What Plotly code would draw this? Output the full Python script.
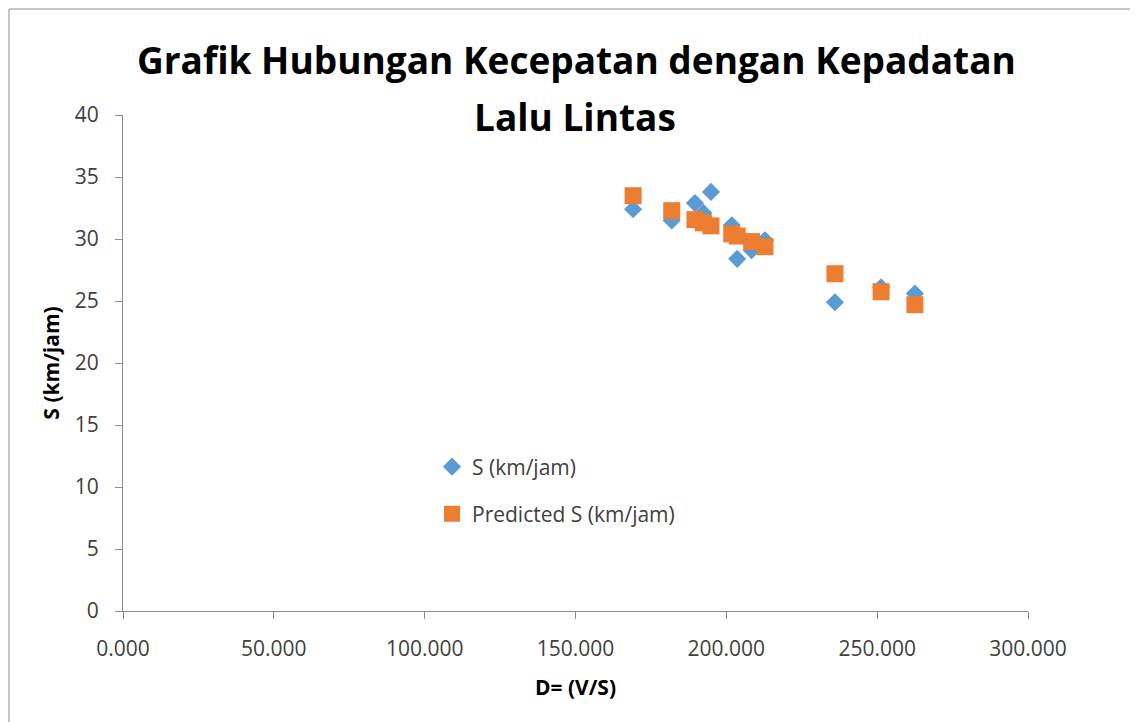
import plotly.graph_objects as go

D = [169.1, 181.9, 189.6, 192.4, 194.9, 201.8, 203.6, 208.4, 212.8, 236.0, 251.3, 262.5]
S = [32.4, 31.5, 32.9, 32.1, 33.8, 31.1, 28.4, 29.1, 29.9, 24.9, 26.1, 25.6]
S_pred = [33.49, 32.28, 31.56, 31.30, 31.06, 30.41, 30.24, 29.79, 29.38, 27.2, 25.75, 24.7]

OFF = 8  # page body margin
W, H = 1138 - OFF, 722 - OFF
# plot area in reference pixel coordinates
L, R, T, B = 123, 1028, 115, 611


def px_x(p):
    return (p - L) / (R - L)


def px_y(p):
    return (B - p) / (B - T)


fig = go.Figure()
fig.add_trace(go.Scatter(x=D, y=S, mode="markers", name="S (km/jam)", legend="legend",
                         marker=dict(symbol="diamond", size=14, color="#5B9BD5")))
fig.add_trace(go.Scatter(x=D, y=S_pred, mode="markers", name="Predicted S (km/jam)", legend="legend2",
                         marker=dict(symbol="square", size=17, color="#ED7D31")))

leg_common = dict(xanchor="left", yanchor="middle", bgcolor="rgba(0,0,0,0)",
                  font=dict(size=21, color="#404040", family="Open Sans"), itemwidth=30)

fig.update_layout(
    width=W, height=H,
    margin=dict(l=L - OFF, r=W - (R - OFF), t=T - OFF, b=H - (B - OFF), pad=0),
    paper_bgcolor="white", plot_bgcolor="white",
    font=dict(family="Open Sans", color="#404040"),
    showlegend=True,
    legend=dict(x=px_x(432), y=px_y(467), **leg_common),
    legend2=dict(x=px_x(432), y=px_y(514), **leg_common),
    annotations=[
        dict(text="<b>Grafik Hubungan Kecepatan dengan Kepadatan</b>", xref="paper", yref="paper",
             x=px_x(576), y=px_y(59), xanchor="center", yanchor="middle", showarrow=False,
             font=dict(family="Open Sans", size=37, color="black")),
        dict(text="<b>Lalu Lintas</b>", xref="paper", yref="paper",
             x=px_x(575), y=px_y(116), xanchor="center", yanchor="middle", showarrow=False,
             font=dict(family="Open Sans", size=37, color="black")),
    ],
    shapes=[dict(type="rect", xref="paper", yref="paper",
                 x0=px_x(9), x1=px_x(1200), y0=px_y(800), y1=px_y(9),
                 line=dict(color="#8c8c8c", width=1))],
)
fig.update_xaxes(range=[0, 300], dtick=50, tickformat=".3f", showgrid=False, zeroline=False,
                 showline=True, linecolor="#8c8c8c", linewidth=1,
                 ticks="outside", ticklen=7, tickcolor="#8c8c8c", ticklabelstandoff=12,
                 tickfont=dict(size=21, color="#404040"),
                 title=dict(text="<b>D= (V/S)</b>", font=dict(size=21, color="black"), standoff=19))
fig.update_yaxes(range=[0, 40], dtick=5, showgrid=False, zeroline=False,
                 showline=True, linecolor="#8c8c8c", linewidth=1,
                 ticks="outside", ticklen=7, tickcolor="#8c8c8c", ticklabelstandoff=12,
                 tickfont=dict(size=21, color="#404040"),
                 title=dict(text="<b>S (km/jam)</b>", font=dict(size=21, color="black"), standoff=9))

fig.write_html("out.html")
